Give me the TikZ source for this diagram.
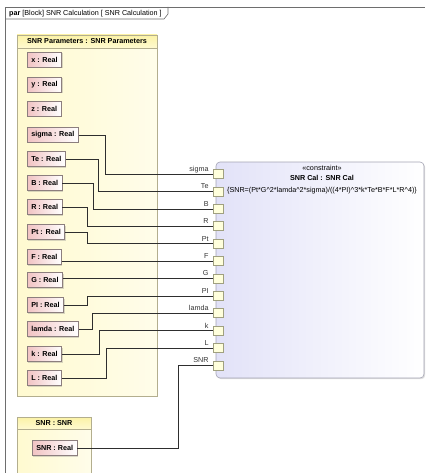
\documentclass[tikz,border=0pt]{standalone}
\usepackage{fontspec}
\setmainfont{Liberation Sans}
\usetikzlibrary{shadows,positioning}
\definecolor{sbframe}{HTML}{6E6E6E}
\definecolor{sbblockline}{HTML}{B3AE8E}
\definecolor{sbblockhead}{HTML}{FBF2A6}
\definecolor{sbblockbody}{HTML}{FFFAD0}
\definecolor{sbpartline}{HTML}{8C7E7E}
\definecolor{sbpartfill}{HTML}{F1C3C3}
\definecolor{sbcstline}{HTML}{A3A3B3}
\definecolor{sbcstfill}{HTML}{E2E2F8}
\definecolor{sbportline}{HTML}{A0A080}
\definecolor{sbportfill}{HTML}{FFFFDC}
\definecolor{sbwire}{HTML}{2E2E2E}
\tikzset{
  every picture/.style={font=\fontsize{7.2}{8}\selectfont},
  block/.style={draw=sbblockline,line width=0.6pt,left color=sbblockbody,
    right color=sbblockbody!45,drop shadow={shadow xshift=1.2pt,
    shadow yshift=-1.2pt,opacity=0.25}},
  blockhead/.style={top color=sbblockhead,bottom color=sbblockbody,
    draw=sbblockline,line width=0.6pt},
  part/.style={draw=sbpartline,line width=0.6pt,left color=sbpartfill,
    right color=white,minimum height=15pt,inner xsep=4pt,anchor=west,
    font=\fontsize{7.2}{8}\selectfont\bfseries,
    drop shadow={shadow xshift=1pt,shadow yshift=-1pt,opacity=0.3}},
  port/.style={draw=sbportline,fill=sbportfill,line width=0.5pt,
    minimum width=10pt,minimum height=9pt,inner sep=0pt},
  portlabel/.style={inner sep=0pt,anchor=base east,text=black!80},
  wire/.style={draw=sbwire,line width=0.6pt},
}

\begin{document}
\begin{tikzpicture}[x=1pt,y=-1pt]
  \path[use as bounding box] (0,0) rectangle (426,473);
  % diagram frame with its name tab
  \draw[sbframe,line width=0.6pt] (5,490) -- (5,7) -- (425,7);
  \draw[sbframe,line width=0.6pt] (5,19) -- (164,19) -- (168,14) -- (168,7);
  \node[anchor=west,inner sep=0pt] (frametag) at (9,13.5)
    {\textbf{par} [Block] SNR Calculation [ SNR Calculation ]};

  % parameter block
  \draw[block] (17,35) rectangle (157,396);
  \draw[blockhead] (17,35) rectangle (157,48);
  \node[font=\fontsize{7.2}{8}\selectfont\bfseries] (paramhead) at (87,41.5)
    {SNR Parameters : SNR Parameters};

  % result block
  \draw[block] (17,417) rectangle (91,490);
  \draw[blockhead] (17,417) rectangle (91,429);
  \node[font=\fontsize{7.2}{8}\selectfont\bfseries] (snrhead) at (54,423)
    {SNR : SNR};

  % constraint property
  \draw[draw=sbcstline,line width=0.6pt,rounded corners=4pt,
    left color=sbcstfill,right color=white,
    drop shadow={shadow xshift=1.2pt,shadow yshift=-1.2pt,opacity=0.25}]
    (216,162) rectangle (424,378);
  \node (stereo) at (322,168) {«constraint»};
  \node[font=\fontsize{7.2}{8}\selectfont\bfseries,below=-2pt of stereo]
    (cstname) {SNR Cal : SNR Cal};
  \node[below=-1pt of cstname] (formula)
    {\{SNR=(Pt*G\^{}2*lamda\^{}2*sigma)/((4*PI)\^{}3*k*Te*B*F*L*R\^{}4)\}};

  % value properties
  \foreach \n/\y in {x/60,y/85,z/109,sigma/135,Te/159,B/183,R/207,Pt/232,
      F/257,G/280,PI/305,lamda/329,k/354,L/378}
    \node[part] (p\n) at (27,\y) {\n{} : Real};
  \node[part] (pSNR) at (32,448) {SNR : Real};

  % constraint parameters
  \foreach \n [count=\i from 0] in {sigma,Te,B,R,Pt,F,G,PI,lamda,k,L,SNR} {
    \node[port] (q\n) at (218,174+17.4*\i) {};
    \node[portlabel] (l\n) at ([xshift=-4pt,yshift=2.5pt]q\n.west) {\n};
  }

  % binding connectors
  \foreach \n/\d in {sigma/107,Te/114,B/119,R/125,Pt/125,PI/125,lamda/120,
      k/113,L/106,SNR/34}
    \draw[wire] (p\n.east) -| ([xshift=-\d pt]q\n.west) -- (q\n.west);
  \draw[wire] (pF.east |- qF.west) -- (qF.west);
  \draw[wire] (pG.east |- qG.west) -- (qG.west);
\end{tikzpicture}
\end{document}
